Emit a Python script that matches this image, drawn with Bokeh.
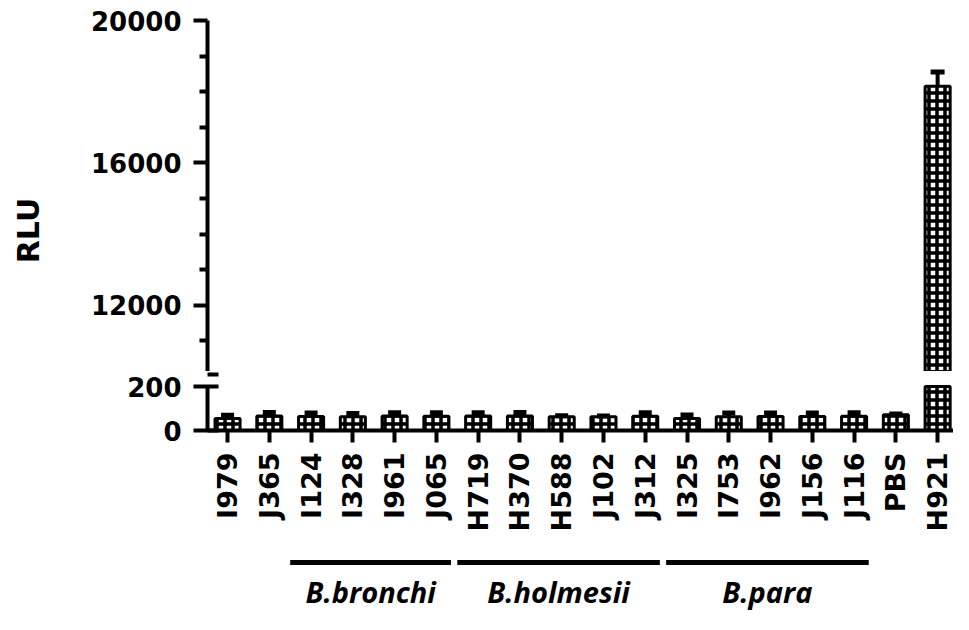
import numpy as np
from bokeh.plotting import figure
from bokeh.models import ColumnDataSource, Range1d, FixedTicker, LinearAxis
from bokeh.layouts import column, row
from bokeh.embed import file_html
from bokeh.resources import INLINE
from bokeh.core.properties import value

# ---------------- data ----------------
strains = ["I979", "J365", "I124", "I328", "I961", "J065", "H719", "H370", "H588",
           "J102", "J312", "I325", "I753", "I962", "J156", "J116", "PBS", "H921"]
rlu = [55, 66, 64, 63, 66, 65, 66, 66, 63, 62, 65, 55, 63, 64, 64, 65, 72, 18150]
rlu_err = [14, 16, 16, 14, 15, 16, 15, 16, 4, 4, 16, 15, 16, 16, 16, 16, 3, 400]

groups = ["B.bronchi", "B.holmesii", "B.para"]
group_first = ["I124", "H719", "I325"]
group_last = ["J065", "J312", "J116"]

upper_ticks = [12000, 16000, 20000]
upper_minor = [11000, 13000, 14000, 15000, 17000, 18000, 19000]
lower_ticks = [0, 200]

# broken axis segments
top_lo, top_hi = 10140, 20000      # visible part of the upper segment
bot_lo, bot_hi = 0, 200            # lower segment
bot_view = 268.2                   # lower plot frame reaches up into the break gap
brk_mark = 254.5                   # position of the upper break mark in lower plot units

# ---------------- layout constants ----------------
LW = 60          # width of the y-title strip
W = 893
LEFT = 147
FONT = "DejaVu Sans"
BAR_W = 0.6

x = np.arange(len(strains))
vals = np.array(rlu, dtype=float)
errs = np.array(rlu_err, dtype=float)
upper = vals + errs

xr = Range1d(-0.48, len(strains) - 0.62)


def clean(p):
    p.xgrid.visible = False
    p.ygrid.visible = False
    p.outline_line_color = None
    p.background_fill_color = "white"
    p.border_fill_color = "white"


def style_y(ax, major_in, major_out):
    ax.axis_line_width = 4
    ax.axis_line_color = "black"
    ax.major_tick_line_width = 4
    ax.major_tick_in = major_in
    ax.major_tick_out = major_out
    ax.minor_tick_line_width = 4
    ax.minor_tick_in = 0
    ax.minor_tick_out = 8
    ax.major_label_text_font = FONT
    ax.major_label_text_font_style = "bold"
    ax.major_label_text_font_size = "26px"
    ax.major_label_text_color = "black"
    ax.major_label_standoff = 12


bar_kw = dict(width=BAR_W, fill_color="white", line_color="black", line_width=3,
              hatch_pattern="+", hatch_color="black", hatch_scale=8, hatch_weight=3.5)

# ---------------- y title strip ----------------
ttl = figure(width=LW, height=614, x_range=Range1d(0, LW), y_range=Range1d(614, 0),
             output_backend="svg", toolbar_location=None,
             x_axis_location=None, y_axis_location=None,
             min_border_left=0, min_border_right=0, min_border_top=0, min_border_bottom=0)
clean(ttl)
ttl.text(x=[28], y=[230], text=["RLU"], angle=np.pi / 2, text_align="center",
         text_baseline="middle", text_font=value(FONT), text_font_style="bold",
         text_font_size="30px", text_color="black")

# ---------------- top segment ----------------
top = figure(width=W, height=371, x_range=xr, y_range=Range1d(top_lo, top_hi),
             output_backend="svg", toolbar_location=None, x_axis_location=None,
             min_border_left=LEFT, min_border_right=0, min_border_top=20, min_border_bottom=0)
clean(top)
ya = top.yaxis[0]
ya.ticker = FixedTicker(ticks=upper_ticks, minor_ticks=upper_minor)
style_y(ya, 0, 14)

m_top = vals > top_lo
src_top = ColumnDataSource(dict(x=x[m_top], top=vals[m_top], upper=upper[m_top]))
top.vbar(x="x", top="top", bottom=top_lo, source=src_top, **bar_kw)
top.segment(x0="x", y0="top", x1="x", y1="upper", line_width=4, line_color="black", source=src_top)
top.scatter(x="x", y="upper", marker="dash", size=14, line_width=5, line_color="black", source=src_top)

# ---------------- bottom segment ----------------
bot = figure(width=W, height=174, x_range=xr, y_range=Range1d(bot_lo, bot_view),
             output_backend="svg", toolbar_location=None,
             min_border_left=LEFT, min_border_right=0, min_border_top=0, min_border_bottom=115)
clean(bot)
yb = bot.yaxis[0]
yb.ticker = FixedTicker(ticks=lower_ticks, minor_ticks=[])
yb.bounds = (bot_lo, bot_hi)
style_y(yb, 11, 14)
yb.minor_tick_line_color = None

brk = LinearAxis(fixed_location=xr.start, ticker=FixedTicker(ticks=[brk_mark], minor_ticks=[]),
                 axis_line_color=None, major_tick_in=11, major_tick_out=14,
                 major_tick_line_width=4, major_tick_line_color="black",
                 minor_tick_line_color=None, major_label_overrides={brk_mark: ""})
bot.add_layout(brk, "left")

xa = bot.xaxis[0]
xa.ticker = FixedTicker(ticks=list(x), minor_ticks=[])
xa.major_label_overrides = {int(i): s for i, s in zip(x, strains)}
xa.axis_line_width = 4
xa.major_tick_line_width = 4
xa.major_tick_in = 0
xa.major_tick_out = 12
xa.minor_tick_line_color = None
xa.major_label_orientation = np.pi / 2
xa.major_label_text_font = FONT
xa.major_label_text_font_style = "bold"
xa.major_label_text_font_size = "27px"
xa.major_label_text_color = "black"
xa.major_label_standoff = 10

src_bot = ColumnDataSource(dict(x=x, top=np.minimum(vals, bot_hi), upper=upper))
bot.vbar(x="x", top="top", bottom=bot_lo, source=src_bot, **bar_kw)
m_err = upper <= bot_hi
src_err = ColumnDataSource(dict(x=x[m_err], top=vals[m_err], upper=upper[m_err]))
bot.segment(x0="x", y0="top", x1="x", y1="upper", line_width=4, line_color="black", source=src_err)
bot.scatter(x="x", y="upper", marker="dash", size=13, line_width=5, line_color="black", source=src_err)

# ---------------- group annotation ----------------
grp = figure(width=W, height=69, x_range=xr, y_range=Range1d(0, 1),
             output_backend="svg", toolbar_location=None,
             x_axis_location=None, y_axis_location=None,
             min_border_left=LEFT, min_border_right=0, min_border_top=0, min_border_bottom=0)
clean(grp)
g0 = np.array([strains.index(s) for s in group_first]) - 0.5
g1 = np.array([strains.index(s) for s in group_last]) + 0.35
src_g = ColumnDataSource(dict(x0=g0, x1=g1, xc=(g0 + g1) / 2, name=groups))
grp.segment(x0="x0", y0=0.754, x1="x1", y1=0.754, line_width=5, line_color="black", source=src_g)
grp.text(x="xc", y=0.33, text="name", source=src_g, text_font=value("Open Sans"),
         text_font_style="bold italic", text_font_size="29px", text_align="center",
         text_baseline="middle", text_color="black")

layout = row(ttl, column(top, bot, grp, spacing=0), spacing=0)
open("out.html", "w").write(file_html(layout, INLINE))
